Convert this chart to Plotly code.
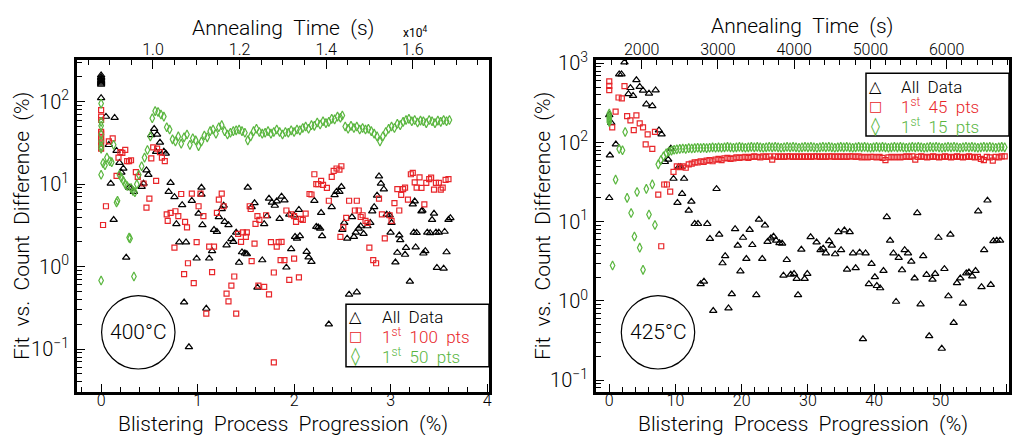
import plotly.graph_objects as go

W, H = 1013, 435
RED = "#e8262a"
GREEN = "#5ab63f"
LIGHT = "Roboto, Liberation Sans, Arial, sans-serif"
SYMFONT = "DejaVu Sans, sans-serif"
SP = "\u00a0\u00a0"

# ---------------- 400 °C anneal : (progression %, fit-vs-count difference %) ----------------
all_400 = [
    (0, 210), (0, 200), (0, 192), (0, 185), (0, 178), (0, 172), (0, 167), (0, 162), (0, 111),
    (0.05, 66), (0.08, 30), (0.10, 10.2), (0.13, 3.7), (0.14, 64), (0.16, 25.5), (0.19, 18.2),
    (0.21, 13.9), (0.23, 15.5), (0.26, 1.29), (0.29, 9.1), (0.31, 9.0), (0.34, 8.1), (0.42, 9.3),
    (0.44, 10.2), (0.47, 14.8), (0.49, 13), (0.52, 39.5), (0.55, 47), (0.57, 24.7), (0.58, 40),
    (0.61, 32), (0.65, 25), (0.67, 23.5), (0.70, 8.1), (0.72, 10.4), (0.76, 7.0), (0.78, 3.3),
    (0.81, 1.98), (0.84, 5.6), (0.86, 0.37), (0.88, 1.98), (0.91, 0.106), (0.94, 6.3), (0.99, 1.26),
    (1.01, 4.4), (1.04, 9.1), (1.04, 7.5), (1.05, 3.2), (1.09, 0.31), (1.12, 1.26), (1.15, 1.55),
    (1.17, 2.8), (1.20, 2.65), (1.22, 4.0), (1.25, 5.0), (1.27, 5.5), (1.28, 3.5), (1.30, 1.82),
    (1.32, 3.2), (1.35, 2.17), (1.37, 2.0), (1.40, 2.6), (1.43, 1.12), (1.46, 1.5), (1.49, 1.45),
    (1.51, 1.42), (1.52, 9.1), (1.56, 5.3), (1.59, 5.9), (1.62, 0.56), (1.67, 1.2), (1.69, 3.3),
    (1.72, 4.1), (1.74, 6.7), (1.77, 6.0), (1.80, 5.5), (1.82, 6.2), (1.85, 3.8), (1.87, 7.1),
    (1.90, 6.4), (1.92, 0.98), (1.95, 4.3), (1.97, 1.64), (2.00, 4.2), (2.01, 2.3), (2.03, 2.2),
    (2.05, 4.9), (2.06, 2.35), (2.13, 1.52), (2.15, 1.3), (2.18, 1.15), (2.21, 6.3), (2.23, 3.05),
    (2.25, 3.0), (2.27, 2.9), (2.28, 4.5), (2.29, 2.35), (2.36, 0.2), (2.39, 5.3), (2.42, 7.4),
    (2.44, 8.1), (2.47, 8.1), (2.49, 9.3), (2.50, 2.8), (2.52, 3.4), (2.55, 2.2), (2.57, 0.46),
    (2.60, 4.0), (2.62, 2.3), (2.64, 2.6), (2.65, 0.49), (2.67, 2.9), (2.69, 3.1), (2.72, 2.5),
    (2.76, 3.1), (2.79, 3.4), (2.81, 4.7), (2.83, 5.3), (2.86, 7.3), (2.88, 12.5), (2.90, 10.2),
    (2.93, 8.7), (2.96, 4.3), (2.99, 4.2), (3.00, 2.6), (3.01, 3.4), (3.05, 1.13), (3.07, 1.48),
    (3.09, 2.4), (3.10, 2.1), (3.15, 1.4), (3.16, 1.7), (3.20, 0.66), (3.23, 5.7), (3.24, 2.6),
    (3.25, 6.2), (3.26, 1.72), (3.27, 2.57), (3.32, 4.7), (3.33, 4.8), (3.34, 1.45), (3.36, 1.55),
    (3.38, 2.6), (3.41, 2.56), (3.43, 3.7), (3.45, 4.4), (3.47, 2.6), (3.48, 0.97), (3.50, 2.6),
    (3.55, 0.95), (3.56, 2.66), (3.58, 1.5), (3.60, 3.7), (3.62, 3.9),
]

first100_400 = [
    (0, 79), (0, 66), (0, 60), (0, 43), (0, 41), (0, 37), (0, 34), (0, 31), (0, 27),
    (0.02, 3.2), (0.05, 5.4), (0.08, 33), (0.12, 36), (0.16, 12.6), (0.18, 21), (0.20, 24.5),
    (0.22, 24), (0.25, 26), (0.27, 19), (0.29, 19), (0.31, 19.5), (0.36, 14), (0.38, 12.3),
    (0.44, 10.2), (0.47, 5.2), (0.50, 6.7), (0.52, 20.6), (0.54, 28), (0.57, 11), (0.58, 27),
    (0.61, 24.5), (0.63, 21), (0.66, 19), (0.68, 4.3), (0.69, 3.6), (0.72, 4.5), (0.76, 1.7),
    (0.77, 4.7), (0.80, 4.1), (0.83, 7.6), (0.86, 0.81), (0.87, 3.5), (0.89, 3.0), (0.90, 1.1),
    (0.94, 7.7), (0.96, 0.63), (0.99, 1.98), (1.01, 5.4), (1.03, 7.7), (1.06, 4.1), (1.09, 0.27),
    (1.12, 1.75), (1.15, 0.86), (1.17, 1.75), (1.20, 4.5), (1.22, 6.5), (1.25, 7.7), (1.27, 5.4),
    (1.30, 0.47), (1.32, 0.38), (1.35, 0.59), (1.38, 0.76), (1.40, 0.27), (1.42, 2.5), (1.45, 2.0),
    (1.47, 2.6), (1.50, 2.3), (1.51, 2.6), (1.54, 5.4), (1.55, 5.0), (1.56, 1.17), (1.59, 1.9),
    (1.60, 3.3), (1.62, 4.1), (1.63, 0.59), (1.64, 3.7), (1.69, 0.57), (1.71, 4.2), (1.74, 0.46),
    (1.76, 1.98), (1.79, 0.85), (1.79, 0.069), (1.82, 1.75), (1.84, 1.98), (1.86, 1.2), (1.87, 2.0),
    (1.90, 1.2), (1.92, 4.8), (1.95, 0.69), (1.97, 4.3), (2.00, 4.1), (2.00, 1.25), (2.02, 3.5),
    (2.05, 0.74), (2.07, 3.8), (2.09, 3.7), (2.12, 4.4), (2.16, 7.6), (2.18, 7.5), (2.21, 13.2),
    (2.23, 10), (2.25, 10), (2.28, 11), (2.30, 9.8), (2.34, 9.0), (2.36, 6.3), (2.39, 12.3),
    (2.41, 14.5), (2.44, 15.5), (2.47, 15), (2.48, 2.3), (2.49, 16.5), (2.51, 3.0), (2.54, 3.9),
    (2.57, 6.3), (2.63, 4.8), (2.65, 6.3), (2.67, 4.8), (2.69, 4.0), (2.71, 4.2), (2.74, 3.6),
    (2.76, 3.4), (2.78, 1.7), (2.82, 1.2), (2.85, 1.1), (2.88, 6.7), (2.91, 4.3), (2.94, 2.2),
    (2.99, 4.2), (3.01, 3.6), (3.04, 5.9), (3.07, 8.7), (3.09, 4.8), (3.11, 7.4), (3.13, 8.7),
    (3.15, 9.1), (3.18, 6.5), (3.21, 13.2), (3.23, 13.7), (3.25, 10.5), (3.27, 9.1), (3.30, 12.1),
    (3.32, 9.0), (3.35, 5.7), (3.37, 10.4), (3.40, 11.5), (3.42, 12), (3.45, 8.6), (3.47, 10.4),
    (3.50, 10.4), (3.52, 8.6), (3.54, 9.1), (3.57, 11.3), (3.60, 11.5),
]

first50_400 = [
    (0, 95), (0, 57), (0, 51), (0, 40), (0, 33), (0, 29), (0, 27), (0, 13), (0, 0.68),
    (0.02, 18), (0.04, 17), (0.06, 21), (0.09, 19), (0.11, 18.5), (0.13, 30), (0.16, 6.0),
    (0.17, 6.3), (0.19, 13), (0.21, 12), (0.23, 11), (0.25, 10), (0.27, 9.5), (0.29, 2.25),
    (0.30, 2.2), (0.31, 9), (0.33, 8.3), (0.34, 0.76), (0.35, 8.0), (0.37, 10),
    (0.39, 13), (0.42, 16.5), (0.45, 21), (0.48, 26), (0.51, 38), (0.53, 63), (0.56, 77),
    (0.59, 75), (0.62, 70), (0.65, 66), (0.68, 49), (0.71, 46), (0.74, 35), (0.77, 33),
    (0.80, 38), (0.83, 31), (0.86, 37), (0.89, 40), (0.92, 30), (0.95, 36), (0.98, 34),
    (1.01, 29), (1.04, 33), (1.07, 39), (1.10, 37), (1.13, 44), (1.16, 46), (1.19, 41),
    (1.22, 49), (1.25, 52), (1.28, 44), (1.31, 40), (1.34, 42), (1.37, 44), (1.40, 45),
    (1.43, 46), (1.46, 44), (1.49, 42), (1.52, 34), (1.55, 38), (1.58, 44), (1.61, 47),
    (1.64, 43), (1.67, 41), (1.70, 42), (1.73, 44), (1.76, 41), (1.79, 43), (1.82, 46),
    (1.85, 43), (1.88, 40), (1.91, 43), (1.94, 42), (1.97, 45), (2.00, 43), (2.03, 46),
    (2.06, 45), (2.09, 48), (2.12, 50), (2.15, 47), (2.18, 52), (2.21, 51), (2.24, 56),
    (2.27, 53), (2.30, 58), (2.33, 55), (2.36, 57), (2.39, 62), (2.42, 61), (2.45, 66),
    (2.48, 64), (2.50, 68), (2.53, 50), (2.56, 47), (2.59, 51), (2.62, 48), (2.65, 50),
    (2.68, 46), (2.71, 48), (2.74, 46), (2.77, 47), (2.80, 44), (2.83, 41), (2.86, 38),
    (2.89, 33), (2.92, 38), (2.95, 43), (2.98, 47), (3.01, 50), (3.04, 48), (3.07, 54),
    (3.10, 52), (3.13, 57), (3.16, 60), (3.19, 62), (3.22, 58), (3.25, 60), (3.28, 56),
    (3.31, 59), (3.34, 58), (3.37, 55), (3.40, 60), (3.43, 58), (3.46, 55), (3.49, 59),
    (3.52, 57), (3.55, 60), (3.58, 58), (3.61, 60),
]

# ---------------- 425 °C anneal ----------------
all_425 = [
    (0, 222), (0.3, 178), (0.1, 69), (0, 20), (1.0, 95), (1.5, 730), (1.85, 730), (2.3, 1030),
    (2.9, 410), (3.2, 490), (3.6, 390), (4.1, 615), (4.6, 507), (5.1, 455), (5.6, 305), (6.0, 417),
    (6.5, 290), (7.0, 458), (7.5, 143), (7.9, 127), (8.4, 57), (8.9, 61), (9.3, 84), (9.7, 35),
    (10.3, 17.4), (10.5, 49), (10.8, 49), (11.0, 22.6), (11.3, 35), (12.0, 13.9), (12.4, 18),
    (12.9, 9.4), (13.4, 9.4), (13.8, 1.64), (14.3, 1.76), (14.8, 9.4), (15.2, 6.1), (15.7, 0.75),
    (16.2, 26), (16.6, 6.9), (17.1, 3.0), (17.5, 3.7), (18.0, 0.81), (18.5, 1.22), (19.0, 8.1),
    (19.4, 5.0), (19.8, 2.37), (20.2, 6.3), (20.7, 3.4), (21.2, 7.9), (21.6, 5.1), (22.2, 1.19),
    (22.6, 10.7), (23.1, 3.4), (23.5, 9.0), (23.9, 5.6), (24.4, 6.2), (24.8, 6.5), (25.2, 5.8),
    (25.7, 5.4), (26.1, 5.3), (26.3, 2.1), (26.8, 3.3), (27.4, 2.15), (27.9, 2.2), (28.3, 1.9),
    (28.5, 1.19), (29.0, 4.45), (29.5, 1.9), (29.9, 2.2), (30.4, 6.4), (31.3, 5.5), (31.9, 4.4),
    (32.3, 4.6), (32.7, 4.0), (33.2, 5.7), (33.6, 5.0), (34.1, 3.9), (34.6, 7.4), (35.0, 4.4),
    (35.5, 7.8), (35.9, 2.5), (36.3, 7.4), (36.8, 4.0), (37.2, 2.6), (37.8, 4.1), (38.3, 0.33),
    (38.7, 4.0), (39.2, 1.64), (39.6, 2.95), (40.1, 2.0), (40.4, 1.55), (40.9, 1.45), (41.4, 2.4),
    (41.9, 11.5), (42.4, 5.8), (42.9, 4.0), (43.3, 0.98), (43.7, 3.5), (44.2, 2.45), (44.6, 4.4),
    (45.1, 4.0), (45.6, 3.15), (46.1, 1.93), (46.5, 12.9), (47.0, 0.91), (47.4, 3.7), (47.9, 2.14),
    (48.3, 0.36), (48.8, 1.86), (49.2, 2.2), (49.7, 6.3), (50.2, 0.25), (50.6, 2.54), (51.2, 1.15),
    (51.5, 6.9), (52.0, 0.53), (52.5, 1.68), (53.0, 1.93), (53.4, 0.93), (53.9, 2.24), (54.3, 2.3),
    (54.8, 2.05), (55.3, 2.4), (55.7, 13.6), (56.2, 1.5), (56.6, 4.4), (57.1, 18.6), (57.6, 1.6),
    (58.0, 5.7), (58.5, 5.8), (59.0, 5.8),
]

first45_425_early = [
    (0, 590), (0, 520), (0, 460), (0.45, 155), (0.96, 245), (1.4, 370), (1.9, 360), (2.3, 515),
    (2.7, 215), (3.2, 190), (3.7, 143), (4.1, 220), (4.6, 174), (5.1, 155), (5.5, 95), (5.8, 127),
    (6.5, 83), (6.9, 136), (7.4, 22), (7.85, 4.9), (8.3, 29.5), (8.7, 29.5), (9.2, 24), (9.7, 42.5),
]

first15_425_early = [
    (0, 232), (0, 215), (0, 202), (0, 192), (0, 182), (0.5, 2.8), (0.96, 34), (1.5, 83), (2.0, 80),
    (2.4, 136), (2.7, 20), (3.3, 12.9), (3.8, 6.5), (4.2, 23.7), (4.6, 4.7), (5.1, 2.47), (5.6, 26),
    (6.0, 12.3), (6.5, 29.6), (6.9, 9.1), (7.4, 53), (7.8, 60), (8.2, 67), (8.6, 73), (9.0, 77),
    (9.4, 79), (9.8, 81),
]

# later samples share one progression grid
prog_425_late = [
    10.2, 10.65, 11.1, 11.55, 12.0, 12.45, 12.9, 13.35, 13.8, 14.25,
    14.7, 15.15, 15.6, 16.05, 16.5, 16.95, 17.4, 17.85, 18.3, 18.75,
    19.2, 19.65, 20.1, 20.55, 21.0, 21.45, 21.9, 22.35, 22.8, 23.25,
    23.7, 24.15, 24.6, 25.05, 25.5, 25.95, 26.4, 26.85, 27.3, 27.75,
    28.2, 28.65, 29.1, 29.55, 30.0, 30.45, 30.9, 31.35, 31.8, 32.25,
    32.7, 33.15, 33.6, 34.05, 34.5, 34.95, 35.4, 35.85, 36.3, 36.75,
    37.2, 37.65, 38.1, 38.55, 39.0, 39.45, 39.9, 40.35, 40.8, 41.25,
    41.7, 42.15, 42.6, 43.05, 43.5, 43.95, 44.4, 44.85, 45.3, 45.75,
    46.2, 46.65, 47.1, 47.55, 48.0, 48.45, 48.9, 49.35, 49.8, 50.25,
    50.7, 51.15, 51.6, 52.05, 52.5, 52.95, 53.4, 53.85, 54.3, 54.75,
    55.2, 55.65, 56.1, 56.55, 57.0, 57.45, 57.9, 58.35, 58.8, 59.25,
    59.7,
]
first45_425_late = [
    50, 49, 50, 48, 53, 54, 56, 56, 58, 57,
    59, 60, 58, 61, 62, 60, 63, 64, 62, 63,
    65, 64, 65, 66, 64, 66, 67, 66, 65, 67,
    66, 67, 61, 67, 66, 67, 66, 67, 67, 66,
    67, 66, 67, 66, 67, 66, 67, 67, 66, 67,
    66, 67, 67, 66, 67, 66, 67, 66, 67, 67,
    66, 67, 65, 66, 65, 66, 66, 65, 66, 64,
    60, 65, 66, 65, 66, 65, 66, 67, 66, 67,
    61, 66, 67, 66, 65, 66, 67, 66, 65, 66,
    67, 66, 65, 66, 67, 66, 65, 66, 67, 66,
    65, 66, 62, 60, 66, 65, 59, 66, 65, 67,
    67,
]
first15_425_late = [
    82, 83, 84, 83, 85, 84, 85, 86, 85, 86,
    85, 86, 87, 86, 87, 86, 87, 88, 87, 86,
    87, 88, 87, 86, 87, 88, 87, 88, 87, 86,
    87, 88, 87, 88, 87, 86, 87, 88, 87, 88,
    87, 86, 87, 88, 87, 88, 87, 86, 87, 88,
    87, 88, 87, 86, 87, 88, 87, 88, 87, 86,
    87, 88, 87, 88, 87, 86, 87, 88, 87, 88,
    87, 86, 87, 88, 87, 88, 87, 86, 87, 88,
    87, 88, 87, 86, 87, 88, 87, 88, 87, 86,
    87, 88, 87, 88, 87, 86, 87, 88, 87, 88,
    87, 86, 87, 88, 87, 88, 87, 86, 87, 88,
    87,
]

# legend / badge texts
legend_400 = ["All" + SP + "Data", "1<sup>st</sup>" + SP + "100" + SP + "pts", "1<sup>st</sup>" + SP + "50" + SP + "pts"]
legend_425 = ["All" + SP + "Data", "1<sup>st</sup>" + SP + "45" + SP + "pts", "1<sup>st</sup>" + SP + "15" + SP + "pts"]


def cols(pts):
    return [p[0] for p in pts], [p[1] for p in pts]


fig = go.Figure()


def add(xs, ys, symbol, color, size, xa, ya):
    fig.add_trace(go.Scatter(
        x=xs, y=ys, mode="markers", xaxis=xa, yaxis=ya, showlegend=False, hoverinfo="skip",
        marker=dict(symbol=symbol, size=size, color=color, line=dict(color=color, width=1.2)),
    ))


# left panel (400 °C)
x, y = cols(all_400)
add(x, y, "triangle-up-open", "black", 6.5, "x", "y")
x, y = cols(first100_400)
add(x, y, "square-open", RED, 5, "x", "y")
x, y = cols(first50_400)
add(x, y, "diamond-tall-open", GREEN, 6.5, "x", "y")

# right panel (425 °C)
x, y = cols(all_425)
add(x, y, "triangle-up-open", "black", 6.5, "x2", "y2")
x, y = cols(first45_425_early)
add(x + prog_425_late, y + first45_425_late, "square-open", RED, 5, "x2", "y2")
x, y = cols(first15_425_early)
add(x + prog_425_late, y + first15_425_late, "diamond-tall-open", GREEN, 6.5, "x2", "y2")

# empty traces so the annealing-time axes along the top get drawn
for xa in ("x3", "x4"):
    fig.add_trace(go.Scatter(x=[], y=[], xaxis=xa, yaxis="y" if xa == "x3" else "y2",
                             showlegend=False, hoverinfo="skip"))

Y_DOM = [1 - 392 / H, 1 - 60 / H]
L_DOM = [77 / W, 489 / W]
R_DOM = [596 / W, 1009 / W]

frame = dict(showline=True, linecolor="black", linewidth=2.5, showgrid=False, zeroline=False,
             ticks="inside", tickcolor="black", tickwidth=1.2,
             tickfont=dict(size=16, color="black", family=LIGHT, weight=300))
minor = dict(ticks="inside", tickcolor="black", tickwidth=1, ticklen=5, showgrid=False)
log_alias = {"1": "10<sup>0</sup>", "10": "10<sup>1</sup>"}

fig.update_layout(
    width=W, height=H, margin=dict(l=0, r=0, t=0, b=0, autoexpand=False),
    paper_bgcolor="white", plot_bgcolor="white",
    font=dict(family=LIGHT, color="black"),
    showlegend=False,
    xaxis=dict(domain=L_DOM, anchor="y", range=[-0.25, 4.02], tick0=0, dtick=1, ticklen=8,
               mirror=True, ticklabelstandoff=-8, minor=dict(dtick=0.2, **minor), **frame),
    yaxis=dict(domain=Y_DOM, anchor="x", type="log", range=[-1.52, 2.506], dtick=1, ticklen=8,
               exponentformat="power", labelalias=log_alias, mirror=True, ticklabelstandoff=2,
               minor=dict(dtick="D1", **minor), **frame),
    xaxis3=dict(overlaying="x", anchor="y", side="top", range=[0.8245, 1.776], tick0=0, dtick=0.2,
                tickformat=".1f", ticklen=9, ticklabelstandoff=-4,
                minor=dict(dtick=0.05, **minor), **frame),
    xaxis2=dict(domain=R_DOM, anchor="y2", range=[-2.0, 60.35], tick0=0, dtick=10, ticklen=8,
                mirror=True, ticklabelstandoff=-8, minor=dict(dtick=2, **minor), **frame),
    yaxis2=dict(domain=Y_DOM, anchor="x2", type="log", range=[-1.15, 3.042], dtick=1, ticklen=8,
                exponentformat="power", labelalias=log_alias, mirror=True, ticklabelstandoff=2,
                minor=dict(dtick="D1", **minor), **frame),
    xaxis4=dict(overlaying="x2", anchor="y2", side="top", range=[1400, 6817], tick0=0, dtick=1000,
                ticklen=9, ticklabelstandoff=-4, minor=dict(dtick=200, **minor), **frame),
)

# axis titles
title_font = dict(size=21, color="black", family=LIGHT, weight=300)
titles = [
    dict(text=f"Annealing{SP}Time{SP}(s)", x=283 / W, y=1 - 28 / H),
    dict(text=f"Annealing{SP}Time{SP}(s)", x=802 / W, y=1 - 26 / H),
    dict(text=f"Blistering{SP}Process{SP}Progression{SP}(%)", x=283 / W, y=1 - 424 / H),
    dict(text=f"Blistering{SP}Process{SP}Progression{SP}(%)", x=803 / W, y=1 - 424 / H),
    dict(text=f"Fit{SP}vs.{SP}Count{SP}Difference{SP}(%)", x=22 / W, y=1 - 226 / H, textangle=-90),
    dict(text=f"Fit{SP}vs.{SP}Count{SP}Difference{SP}(%)", x=543 / W, y=1 - 226 / H, textangle=-90),
]
for a in titles:
    fig.add_annotation(xref="paper", yref="paper", showarrow=False, font=title_font,
                       xanchor="center", yanchor="middle", **a)

fig.add_annotation(xref="paper", yref="paper", showarrow=False, text="x10<sup>4</sup>",
                   x=415 / W, y=1 - 32 / H, xanchor="center", yanchor="middle",
                   font=dict(size=12, color="black", family=LIGHT))

# temperature badges
for cx, label in [(138.3, "400°C"), (658, "425°C")]:
    cy, r = 332.3, 36.7
    fig.add_shape(type="circle", xref="paper", yref="paper",
                  x0=(cx - r) / W, x1=(cx + r) / W, y0=1 - (cy + r) / H, y1=1 - (cy - r) / H,
                  line=dict(color="black", width=1.2))
    fig.add_annotation(xref="paper", yref="paper", showarrow=False, text=label,
                       x=cx / W, y=1 - cy / H, xanchor="center", yanchor="middle",
                       font=dict(size=21, color="black", family=LIGHT, weight=300))


# boxed keys
def key_box(x0, x1, y0, y1, sym_x, text_x, rows, labels):
    fig.add_shape(type="rect", xref="paper", yref="paper", layer="above",
                  x0=x0 / W, x1=x1 / W, y0=1 - y1 / H, y1=1 - y0 / H,
                  line=dict(color="black", width=1.5), fillcolor="white")
    glyphs = [("\u25b3", "black", 16), ("\u25a1", RED, 14), ("\u25ca", GREEN, 18)]
    for (g, c, s), ry, lab in zip(glyphs, rows, labels):
        fig.add_annotation(xref="paper", yref="paper", showarrow=False, text=g,
                           x=sym_x / W, y=1 - ry / H, xanchor="center", yanchor="middle",
                           font=dict(size=s, color=c, family=SYMFONT))
        fig.add_annotation(xref="paper", yref="paper", showarrow=False, text=lab,
                           x=text_x / W, y=1 - ry / H, xanchor="left", yanchor="middle",
                           font=dict(size=17, color=c, family=LIGHT, weight=300))


key_box(346, 489, 304.3, 366.7, 355, 380, [316.7, 336.2, 355.8], legend_400)
key_box(866, 1009, 73.3, 136, 875, 899, [86.7, 106.5, 126], legend_425)

fig.write_html("out.html")
